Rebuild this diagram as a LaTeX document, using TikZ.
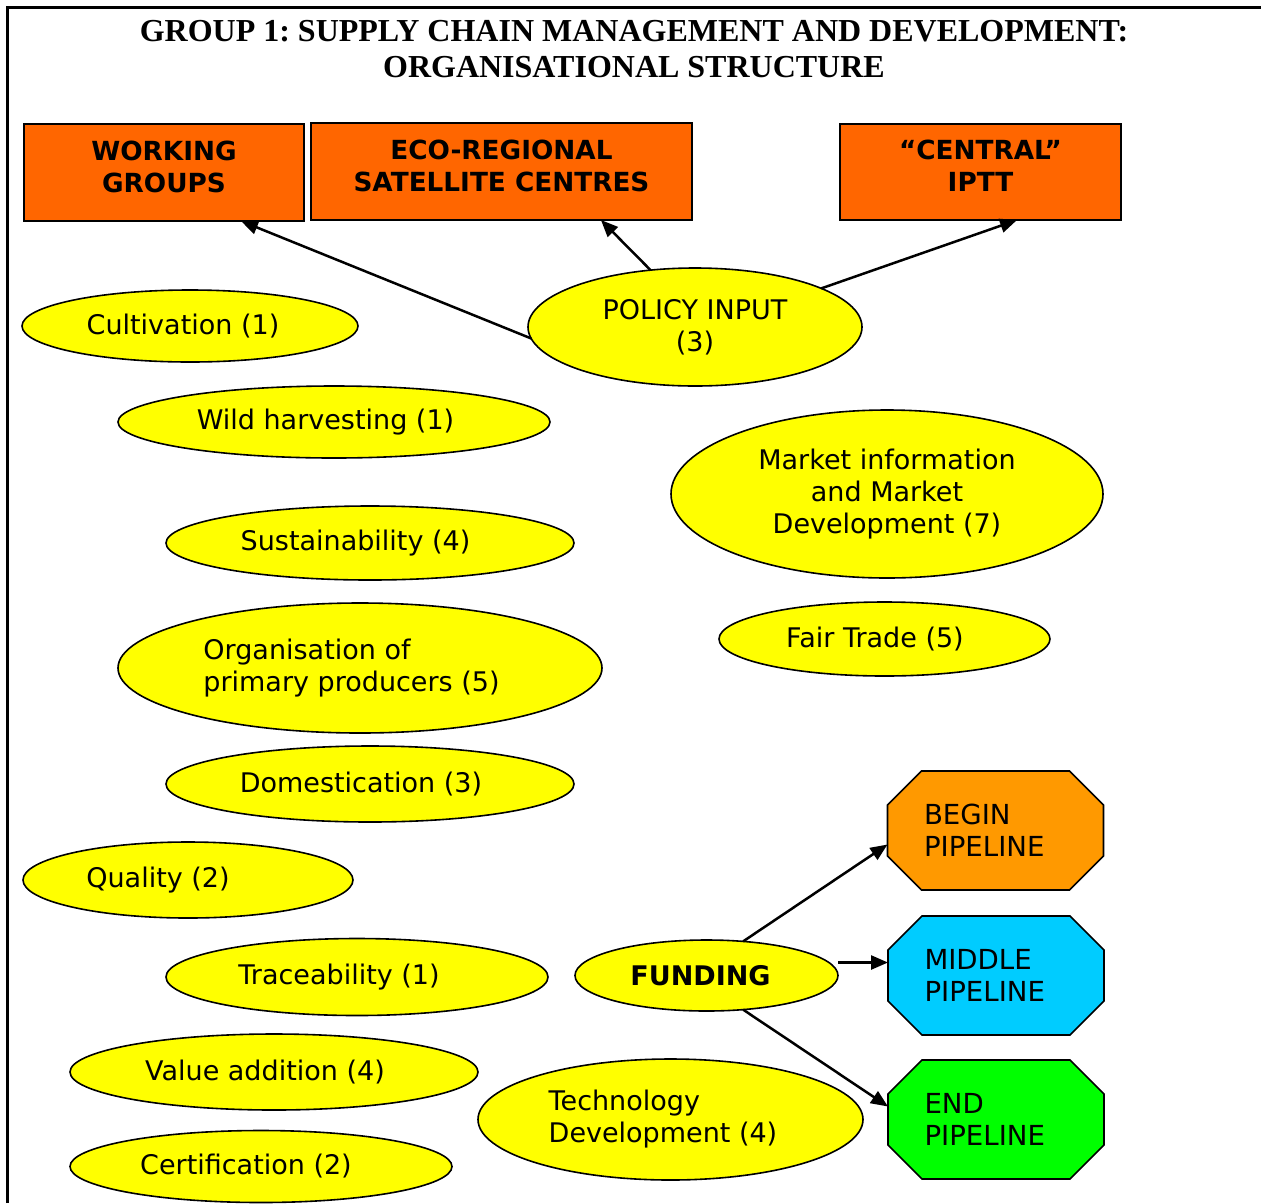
\documentclass[tikz,border=0pt]{standalone}
\usepackage{fontspec}
\setmainfont{DejaVu Sans}
\newfontfamily\titlefont{Liberation Serif}
\usetikzlibrary{shapes.geometric,arrows.meta,calc}
\pgfdeclarelayer{bg}\pgfsetlayers{bg,main}
\definecolor{boxorange}{HTML}{FF6600}
\definecolor{beginorange}{HTML}{FF9900}
\definecolor{midcyan}{HTML}{00CCFF}
\definecolor{endgreen}{HTML}{00FF00}
\definecolor{ovalyellow}{HTML}{FFFF00}
\newcommand\myocta[2]{%
  \filldraw[fill=#2, line width=1.6pt, line join=miter]
    ([xshift=34pt]#1.north west) -- ([xshift=-34pt]#1.north east) --
    ([yshift=-34pt]#1.north east) -- ([yshift=34pt]#1.south east) --
    ([xshift=-34pt]#1.south east) -- ([xshift=34pt]#1.south west) --
    ([yshift=34pt]#1.south west) -- ([yshift=-34pt]#1.north west) -- cycle;}
\newcommand\lsh[1]{\hspace*{#1pt}}
\tikzset{
  oval/.style={ellipse, draw, fill=ovalyellow, line width=1.6pt, inner sep=0pt, outer sep=0pt,
    font=\fontsize{27}{32}\selectfont},
  topbox/.style={rectangle, draw, fill=boxorange, line width=1.8pt, inner sep=0pt, outer sep=0pt,
    font=\fontsize{26.3}{32}\selectfont\bfseries, align=center, text depth=12pt},
  octa/.style={rectangle, draw=none, inner sep=0pt, outer sep=0pt, minimum width=216pt,
    minimum height=119pt, text width=143pt, align=left, font=\fontsize{27.6}{32}\selectfont},
  conn/.style={line width=2.5pt, -{Triangle[length=17pt,width=14pt]}},
}
\begin{document}
\frenchspacing
\begin{tikzpicture}[x=1pt,y=-1pt]
\useasboundingbox (0,0) rectangle (1261,1203);
\draw[line width=3pt] (7,1203) -- (7,7) -- (1261,7);

\node[font=\titlefont\fontsize{32}{36}\selectfont\bfseries, align=center] (title) at (634,49)
  {GROUP 1: SUPPLY CHAIN MANAGEMENT AND DEVELOPMENT:\\ORGANISATIONAL STRUCTURE};

\node[topbox, minimum width=280pt, minimum height=97pt] (working) at (164,172.5) {WORKING\\GROUPS};
\node[topbox, minimum width=381pt, minimum height=97pt] (eco) at (501.5,171.5) {ECO-REGIONAL\\SATELLITE CENTRES};
\node[topbox, minimum width=281pt, minimum height=96pt] (central) at (980.5,172) {“CENTRAL”\\IPTT};

\node[oval, align=center, minimum width=334pt, minimum height=118pt] (policy) at (695,327) {POLICY INPUT\\(3)};
\node[oval, minimum width=336pt, minimum height=72pt] (cultivation) at (190,326) {Cultivation (1)\lsh{14}};
\node[oval, minimum width=432pt, minimum height=72pt] (wild) at (334,422) {Wild harvesting (1)\lsh{17}};
\node[oval, minimum width=408pt, minimum height=74pt] (sustain) at (370,543) {Sustainability (4)\lsh{29}};
\node[oval, minimum width=484pt, minimum height=130pt, align=left] (organisation) at (360,668) {Organisation of\\primary producers (5)\lsh{17}};
\node[oval, minimum width=408pt, minimum height=76pt] (domestication) at (370,784) {Domestication (3)\lsh{18}};
\node[oval, minimum width=330pt, minimum height=76pt] (quality) at (188,880) {Quality (2)\lsh{60}};
\node[oval, minimum width=382pt, minimum height=77pt] (trace) at (357,977) {Traceability (1)\lsh{36}};
\node[oval, minimum width=408pt, minimum height=76pt] (value) at (274,1072) {Value addition (4)\lsh{18}};
\node[oval, minimum width=382pt, minimum height=72pt] (cert) at (261,1166.5) {Certification (2)\lsh{30}};
\node[oval, align=center, minimum width=432pt, minimum height=168pt] (market) at (887,494) {Market information\\and Market\\Development (7)};
\node[oval, minimum width=331pt, minimum height=74pt] (fair) at (884.5,639) {Fair Trade (5)\lsh{19}};
\node[oval, minimum width=263pt, minimum height=71pt, font=\fontsize{27}{32}\selectfont\bfseries] (funding) at (706.5,975.5) {FUNDING\lsh{12}};
\node[oval, minimum width=385pt, minimum height=121pt, align=left] (tech) at (670.5,1119.5) {Technology\\Development (4)\lsh{15}};

\node[octa] (begin) at (995.5,830.5) {BEGIN\\PIPELINE};
\node[octa] (middle) at (996,975.5) {MIDDLE\\PIPELINE};
\node[octa] (end) at (996,1119.5) {END\\PIPELINE};
\begin{pgfonlayer}{bg}
\fill[white] (0,0) rectangle (1261,1203);
\myocta{begin}{beginorange}
\myocta{middle}{midcyan}
\myocta{end}{endgreen}
\end{pgfonlayer}

\draw[conn] (policy.184) -- ($(working.south west)!0.775!(working.south east)$);
\draw[conn] (policy.128) -- ($(eco.south west)!0.761!(eco.south east)$);
\draw[conn] (policy.17) -- ($(central.south west)!0.63!(central.south east)$);
\draw[conn] (funding.43) -- ([yshift=-14pt]begin.west);
\draw[conn] ([yshift=13pt]funding.east) -- ([yshift=13pt]middle.west);
\draw[conn] (funding.-43) -- ([yshift=13pt]end.west);
\end{tikzpicture}
\end{document}
